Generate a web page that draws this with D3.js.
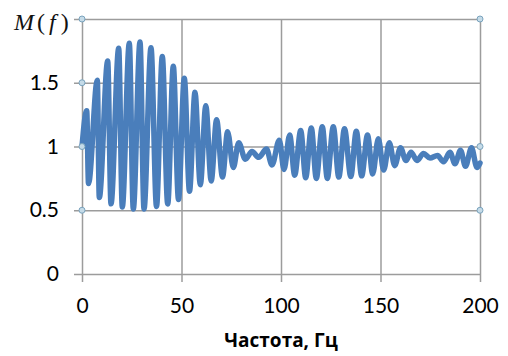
<!DOCTYPE html>
<html>
<head>
<meta charset="utf-8">
<script src="https://cdn.jsdelivr.net/npm/d3@7"></script>
<style>
  html, body { margin: 0; padding: 0; background: #fff; }
  svg { display: block; }
</style>
</head>
<body>
<div id="chart"></div>
<script>
// local extrema of M(f) (Hz)
const freqs = [
  0, 2.36, 3.27, 7.69, 8.69, 12.91, 14.57, 18.44, 20.25, 23.77, 25.78,
  29.15, 31.16, 34.67, 37.44, 40.35, 43.07, 45.88, 48.49, 51.41, 54.02,
  56.78, 59.45, 62.21, 64.92, 67.64, 70.6, 73.17, 76.03, 78.74, 82.06,
  85.43, 88.79, 92.71, 95.48, 99.15, 101.51, 104.37, 106.88, 109.9, 112.41,
  115.23, 117.74, 120.75, 123.27, 126.28, 129.05, 131.91, 135.08, 137.84, 140.55,
  143.47, 146.08, 148.89, 151.61, 154.42, 157.14, 160.05, 162.81, 165.33, 168.34,
  171.61, 174.87, 178.64, 181.66, 184.92, 187.44, 190.2, 192.71, 195.73, 198.49,
  200
];
const values = [
  1, 1.28, 0.71, 1.52, 0.6, 1.67, 0.55, 1.77, 0.525, 1.81, 0.51,
  1.82, 0.51, 1.775, 0.53, 1.705, 0.55, 1.63, 0.585, 1.535, 0.65,
  1.425, 0.7, 1.32, 0.73, 1.21, 0.76, 1.115, 0.835, 1.03, 0.9,
  0.96, 0.915, 0.98, 0.855, 1.05, 0.82, 1.09, 0.775, 1.125, 0.755,
  1.145, 0.75, 1.155, 0.75, 1.155, 0.76, 1.14, 0.765, 1.12, 0.77,
  1.09, 0.785, 1.06, 0.815, 1.03, 0.85, 0.99, 0.89, 0.955, 0.89,
  0.945, 0.91, 0.93, 0.88, 0.955, 0.865, 0.97, 0.845, 0.99, 0.835,
  0.87
];
const xTicks = [0, 50, 100, 150, 200];
const yTicks = [0, 0.5, 1, 1.5, 2];
const yLabels = ['0', '0.5', '1', '1.5'];
const xTitle = 'Частота, Гц';

const W = 508, H = 356;
const plot = { left: 82, right: 480, top: 19, bottom: 274 };

const svg = d3.select('#chart').append('svg')
  .attr('width', W).attr('height', H);

const x = d3.scaleLinear().domain([0, 200]).range([plot.left, plot.right]);
const y = d3.scaleLinear().domain([0, 2]).range([plot.bottom, plot.top]);

// horizontal grid (with the little tick sticking out to the left)
svg.append('g')
  .attr('transform', `translate(${plot.left - 8},0)`)
  .call(d3.axisLeft(y).tickValues(yTicks).tickSize(-(plot.right - plot.left + 8)).tickFormat(''))
  .call(g => g.select('.domain').remove())
  .call(g => g.selectAll('line').attr('stroke', '#9c9c9c').attr('stroke-width', 1.5));

// vertical grid (ticks sticking out below)
svg.append('g')
  .attr('transform', `translate(0,${plot.bottom + 8})`)
  .call(d3.axisBottom(x).tickValues(xTicks).tickSize(-(plot.bottom - plot.top + 8)).tickFormat(''))
  .call(g => g.select('.domain').remove())
  .call(g => g.selectAll('line').attr('stroke', '#9c9c9c').attr('stroke-width', 1.5));

// y labels
svg.append('g')
  .attr('transform', `translate(${plot.left},0)`)
  .call(d3.axisLeft(y).tickValues(yTicks.slice(0, 4)).tickSize(0).tickPadding(23)
    .tickFormat((d, i) => yLabels[i]))
  .call(g => g.select('.domain').remove())
  .call(g => g.selectAll('text')
    .attr('fill', '#000')
    .style('font-family', 'Lato, sans-serif')
    .style('font-size', '21px'));

// x labels
svg.append('g')
  .attr('transform', `translate(0,${plot.bottom})`)
  .call(d3.axisBottom(x).tickValues(xTicks).tickSize(0).tickFormat(d3.format('d')))
  .call(g => g.select('.domain').remove())
  .call(g => g.selectAll('text')
    .attr('y', 32).attr('dy', '0.35em')
    .attr('fill', '#000')
    .style('font-family', 'Lato, sans-serif')
    .style('font-size', '21px'));

// the curve
const line = d3.line()
  .x((d, i) => x(freqs[i]))
  .y(d => y(d))
  .curve(d3.curveMonotoneX);

svg.append('path')
  .datum(values)
  .attr('fill', 'none')
  .attr('stroke', '#4a7ebb')
  .attr('stroke-width', 5.5)
  .attr('stroke-linejoin', 'round')
  .attr('stroke-linecap', 'round')
  .attr('d', line);

// selection handles
const handles = [[0, 2], [0, 1.5], [0, 1], [0, 0.5], [200, 2], [200, 1], [200, 0.5]];
svg.append('g').selectAll('circle')
  .data(handles)
  .join('circle')
  .attr('cx', d => x(d[0]))
  .attr('cy', d => y(d[1]))
  .attr('r', 3)
  .attr('fill', '#c5dbe8')
  .attr('stroke', '#7aa3bd')
  .attr('stroke-width', 1);

// y title  M ( f )
const yt = svg.append('text')
  .attr('x', 14).attr('y', 30)
  .style('font-family', '"Liberation Serif", serif')
  .style('font-size', '24px')
  .attr('fill', '#111');
yt.append('tspan').style('font-style', 'italic').text('M');
yt.append('tspan').attr('dx', 3).text('(');
yt.append('tspan').attr('dx', 4).style('font-style', 'italic').text('f');
yt.append('tspan').attr('dx', 5).text(')');

// x title
svg.append('text')
  .attr('x', x(100)).attr('y', 347)
  .attr('text-anchor', 'middle')
  .style('font-family', '"Open Sans", sans-serif')
  .style('font-weight', 'bold')
  .style('font-size', '19px')
  .attr('fill', '#000')
  .text(xTitle);
</script>
</body>
</html>
